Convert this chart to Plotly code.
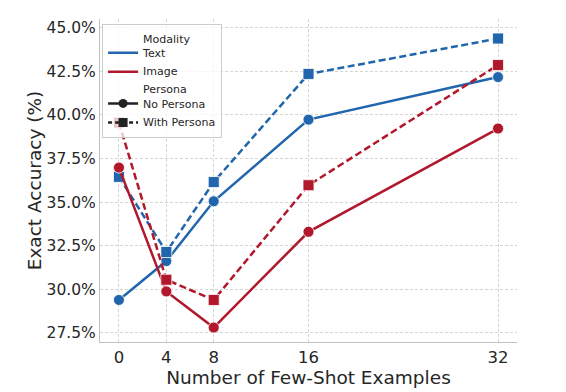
import plotly.graph_objects as go

shots = [0, 4, 8, 16, 32]
text_no_persona = [29.39, 31.62, 35.05, 39.73, 42.17]
text_with_persona = [36.45, 32.14, 36.15, 42.35, 44.38]
image_no_persona = [36.98, 29.88, 27.81, 33.30, 39.22]
image_with_persona = [39.56, 30.55, 29.39, 35.97, 42.86]
y_ticks = [27.5, 30.0, 32.5, 35.0, 37.5, 40.0, 42.5, 45.0]

BLUE = "#2166ac"
RED = "#b2182b"
FONT = "DejaVu Sans"
TXT = "#262626"
DASH = "7px,3.5px"

fig = go.Figure()

def add(y, color, dash, symbol):
    fig.add_trace(go.Scatter(
        x=shots, y=y, mode="lines+markers",
        line=dict(color=color, width=2.5, dash=dash),
        marker=dict(symbol=symbol, size=11, color=color, line=dict(color="white", width=0.8)),
        showlegend=False))

add(text_no_persona, BLUE, "solid", "circle")
add(text_with_persona, BLUE, DASH, "square")
add(image_no_persona, RED, "solid", "circle")
add(image_with_persona, RED, DASH, "square")

# legend entries (no data)
def leg(name, color, dash, symbol):
    mode = "lines+markers" if symbol else "lines"
    fig.add_trace(go.Scatter(
        x=[None], y=[None], mode=mode, name=name,
        line=dict(color=color, width=2.5, dash=dash),
        marker=dict(symbol=symbol or "circle", size=9, color=color)))

leg("Modality<br>Text", BLUE, "solid", None)
leg("Image", RED, "solid", None)
leg("Persona<br>No Persona", "#222222", "solid", "circle")
leg("With Persona", "#222222", "4px,3px", "square")

# page body has an 8px margin: size the figure to fit the window
fig.update_layout(
    width=558, height=384,
    margin=dict(l=92, r=49, t=11, b=50),
    paper_bgcolor="white", plot_bgcolor="white",
    font=dict(family=FONT, color=TXT, size=14),
    legend=dict(x=0.005, y=0.985, xanchor="left", yanchor="top", valign="bottom",
                bgcolor="rgba(255,255,255,0.75)", bordercolor="#cccccc", borderwidth=1,
                font=dict(size=11, color=TXT, family=FONT),
                tracegroupgap=0, itemwidth=30),
    xaxis=dict(range=[-1.6, 33.6], tickvals=shots, ticktext=[str(s) for s in shots],
               showgrid=True, gridcolor="#d6d6d6", griddash="3px,2px", gridwidth=1,
               showline=True, linecolor="#c0c0c0", linewidth=1.2, zeroline=False,
               ticks="", tickfont=dict(size=16.5), automargin=False,
               title=dict(text="Number of Few-Shot Examples", font=dict(size=18.5), standoff=0)),
    yaxis=dict(range=[26.98, 45.5], tickvals=y_ticks, ticktext=[f"{v:.1f}%" for v in y_ticks],
               showgrid=True, gridcolor="#d6d6d6", griddash="3px,2px", gridwidth=1,
               showline=True, linecolor="#c0c0c0", linewidth=1.2, zeroline=False,
               ticks="", tickfont=dict(size=15.5), automargin=False,
               title=dict(text="Exact Accuracy (%)", font=dict(size=18.5), standoff=0)),
)

fig.write_html("out.html")
